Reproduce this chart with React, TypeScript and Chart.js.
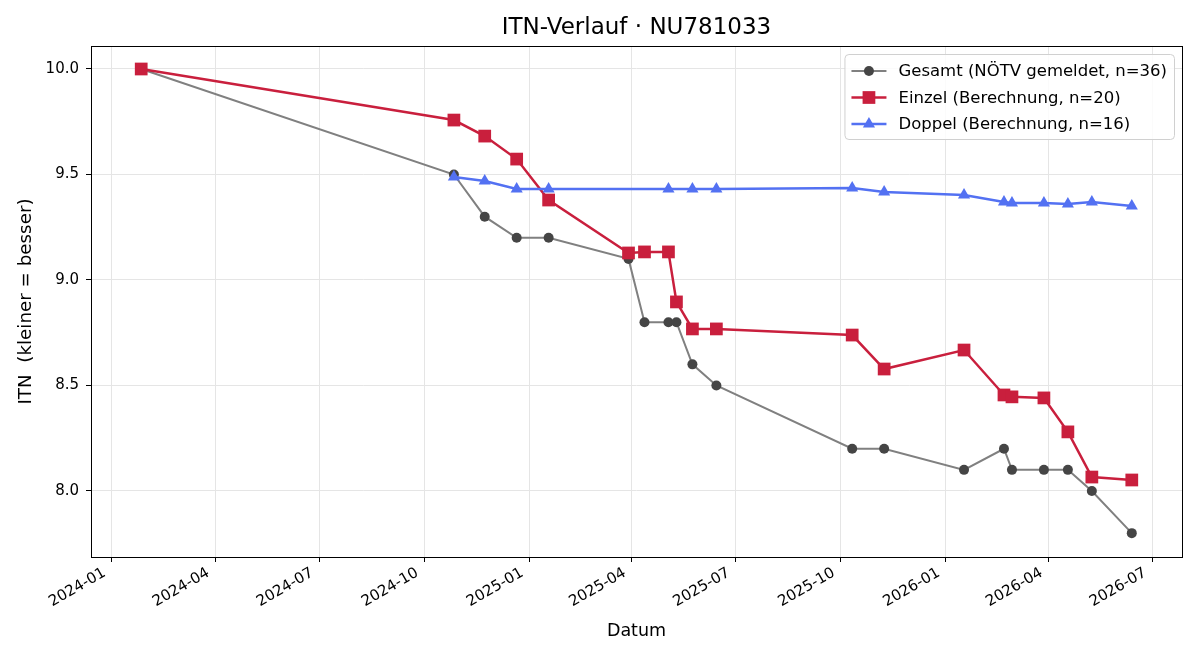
import React, { useEffect, useRef } from 'react';
import { Chart, registerables } from 'chart.js';

Chart.register(...registerables);

// ---- data ----
const dates = [
  '2024-01-27', '2024-10-27', '2024-11-23', '2024-12-21', '2025-01-18',
  '2025-03-29', '2025-04-12', '2025-05-03', '2025-05-10', '2025-05-24',
  '2025-06-14', '2025-10-11', '2025-11-08', '2026-01-17', '2026-02-21',
  '2026-02-28', '2026-03-28', '2026-04-18', '2026-05-09', '2026-06-13',
];
const gesamt = [
  10.0, 9.5, 9.3, 9.2, 9.2, 9.1, 8.8, 8.8, 8.8, 8.6,
  8.5, 8.2, 8.2, 8.1, 8.2, 8.1, 8.1, 8.1, 8.0, 7.8,
];
const einzel = [
  10.0, 9.758, 9.682, 9.573, 9.379, 9.128, 9.133, 9.133, 8.896, 8.768,
  8.768, 8.739, 8.578, 8.668, 8.455, 8.446, 8.441, 8.28, 8.066, 8.052,
];
const doppelDates = [
  '2024-10-27', '2024-11-23', '2024-12-21', '2025-01-18', '2025-05-03',
  '2025-05-24', '2025-06-14', '2025-10-11', '2025-11-08', '2026-01-17',
  '2026-02-21', '2026-02-28', '2026-03-28', '2026-04-18', '2026-05-09',
  '2026-06-13',
];
const doppel = [
  9.488, 9.469, 9.431, 9.431, 9.431, 9.431, 9.431, 9.436, 9.417, 9.403,
  9.37, 9.365, 9.365, 9.36, 9.37, 9.351,
];
const seriesLabels = [
  'Gesamt (NÖTV gemeldet, n=36)',
  'Einzel (Berechnung, n=20)',
  'Doppel (Berechnung, n=16)',
];
const xTickLabels = [
  '2024-01', '2024-04', '2024-07', '2024-10', '2025-01',
  '2025-04', '2025-07', '2025-10', '2026-01', '2026-04', '2026-07',
];
const yTickValues = [8.0, 8.5, 9.0, 9.5, 10.0];
const xRange = ['2023-12-14', '2026-07-27'];
const yRange = [7.687, 10.109];

const titleText = 'ITN-Verlauf · NU781033';
const xTitle = 'Datum';
const yTitle = 'ITN  (kleiner = besser)';

// ---- helpers ----
const DAY0 = Date.UTC(2024, 0, 1);
const toDay = (s: string) => {
  const [y, m, d] = s.split('-').map(Number);
  return (Date.UTC(y, m - 1, d || 1) - DAY0) / 86400000;
};

const FONT = '"DejaVu Sans", Verdana, sans-serif';
const GRAY_LINE = '#808080';
const GRAY_PT = '#454545';
const RED = '#C91F3D';
const BLUE = '#5371F2';

function drawMarker(ctx: CanvasRenderingContext2D, style: string, x: number, y: number, r: number, color: string) {
  ctx.fillStyle = color;
  ctx.beginPath();
  if (style === 'circle') {
    ctx.arc(x, y, r, 0, Math.PI * 2);
  } else if (style === 'rect') {
    const s = Math.SQRT1_2 * r;
    ctx.rect(x - s, y - s, 2 * s, 2 * s);
  } else if (style === 'triangle') {
    let rad = 0;
    ctx.moveTo(x + Math.sin(rad) * r, y - Math.cos(rad) * r);
    rad += (2 * Math.PI) / 3;
    ctx.lineTo(x + Math.sin(rad) * r, y - Math.cos(rad) * r);
    rad += (2 * Math.PI) / 3;
    ctx.lineTo(x + Math.sin(rad) * r, y - Math.cos(rad) * r);
    ctx.closePath();
  }
  ctx.fill();
}

const framePlugin = {
  id: 'frameAndLegend',
  afterDatasetsDraw(chart: any) {
    const { ctx, chartArea } = chart;
    const { left, right, top, bottom } = chartArea;
    ctx.save();
    // spines
    ctx.strokeStyle = '#000';
    ctx.lineWidth = 1;
    ctx.strokeRect(Math.round(left) + 0.5, Math.round(top) + 0.5, Math.round(right - left), Math.round(bottom - top));

    // title, centred over the axes
    ctx.font = `23px ${FONT}`;
    ctx.fillStyle = '#000';
    ctx.textAlign = 'center';
    ctx.textBaseline = 'middle';
    ctx.fillText(titleText, (left + right) / 2, 28);

    // legend
    ctx.font = `16.5px ${FONT}`;
    const ds = chart.data.datasets;
    const textW = Math.max(...ds.map((d: any) => ctx.measureText(d.label).width));
    const padX = 7, lineLen = 35, gap = 12, rowH = 26.5;
    const w = padX + lineLen + gap + textW + padX;
    const h = 85;
    const x0 = right - 8 - w;
    const y0 = top + 8;
    ctx.beginPath();
    ctx.roundRect(x0 + 0.5, y0 + 0.5, w, h, 4);
    ctx.fillStyle = 'rgba(255,255,255,0.85)';
    ctx.fill();
    ctx.strokeStyle = '#d0d0d0';
    ctx.lineWidth = 1;
    ctx.stroke();
    ds.forEach((d: any, i: number) => {
      const cy = y0 + 17 + i * rowH;
      ctx.beginPath();
      ctx.strokeStyle = d.borderColor;
      ctx.lineWidth = d.borderWidth;
      ctx.moveTo(x0 + padX, cy);
      ctx.lineTo(x0 + padX + lineLen, cy);
      ctx.stroke();
      drawMarker(ctx, d.pointStyle, x0 + padX + lineLen / 2, cy, d.pointRadius, d.pointBackgroundColor);
      ctx.fillStyle = '#000';
      ctx.textAlign = 'left';
      ctx.textBaseline = 'middle';
      ctx.fillText(d.label, x0 + padX + lineLen + gap, cy + 1);
    });
    ctx.restore();
  },
};

export default function App() {
  const canvasRef = useRef<HTMLCanvasElement | null>(null);

  useEffect(() => {
    document.body.style.margin = '0';
    const canvas = canvasRef.current;
    if (!canvas) return;
    Chart.defaults.font.family = FONT;
    Chart.defaults.color = '#000';

    const xTicks = xTickLabels.map((l) => toDay(l + '-01'));

    const chart = new Chart(canvas, {
      type: 'line',
      data: {
        datasets: [
          {
            label: seriesLabels[0],
            data: dates.map((d, i) => ({ x: toDay(d), y: gesamt[i] })),
            borderColor: GRAY_LINE,
            borderWidth: 2,
            pointStyle: 'circle',
            pointRadius: 5,
            pointBackgroundColor: GRAY_PT,
            pointBorderColor: GRAY_PT,
            pointBorderWidth: 0,
            tension: 0,
            order: 3,
          },
          {
            label: seriesLabels[1],
            data: dates.map((d, i) => ({ x: toDay(d), y: einzel[i] })),
            borderColor: RED,
            borderWidth: 2.5,
            pointStyle: 'rect',
            pointRadius: 9,
            pointBackgroundColor: RED,
            pointBorderColor: RED,
            pointBorderWidth: 0,
            tension: 0,
            order: 2,
          },
          {
            label: seriesLabels[2],
            data: doppelDates.map((d, i) => ({ x: toDay(d), y: doppel[i] })),
            borderColor: BLUE,
            borderWidth: 2.5,
            pointStyle: 'triangle',
            pointRadius: 7,
            pointBackgroundColor: BLUE,
            pointBorderColor: BLUE,
            pointBorderWidth: 0,
            tension: 0,
            order: 1,
          },
        ] as any,
      },
      options: {
        animation: false,
        responsive: true,
        maintainAspectRatio: false,
        layout: { padding: { left: 0, right: 18, top: 46, bottom: 0 } },
        plugins: {
          legend: { display: false },
          tooltip: { enabled: false },
          title: { display: false },
        },
        scales: {
          x: {
            type: 'linear',
            min: toDay(xRange[0]),
            max: toDay(xRange[1]),
            afterBuildTicks: (s: any) => {
              s.ticks = xTicks.map((v) => ({ value: v }));
            },
            afterFit: (s: any) => {
              s.height = 103;
            },
            ticks: {
              autoSkip: false,
              minRotation: 30,
              maxRotation: 30,
              padding: 2,
              labelOffset: -7,
              color: '#000',
              font: { size: 15, family: FONT },
              callback: (_v: any, i: number) => xTickLabels[i],
            },
            grid: { color: '#e5e5e5', tickColor: '#000', tickLength: 5, lineWidth: 1 },
            border: { display: false },
            title: {
              display: true,
              text: xTitle,
              color: '#000',
              font: { size: 17.5, family: FONT },
              padding: { top: 0, bottom: 18 },
            },
          },
          y: {
            type: 'linear',
            min: yRange[0],
            max: yRange[1],
            afterBuildTicks: (s: any) => {
              s.ticks = yTickValues.map((v) => ({ value: v }));
            },
            afterFit: (s: any) => {
              s.width = 91;
            },
            ticks: {
              padding: 7,
              color: '#000',
              font: { size: 15, family: FONT },
              callback: (v: any) => Number(v).toFixed(1),
            },
            grid: { color: '#e5e5e5', tickColor: '#000', tickLength: 5, lineWidth: 1 },
            border: { display: false },
            title: {
              display: true,
              text: yTitle,
              color: '#000',
              font: { size: 18.3, family: FONT },
              padding: { top: 15, bottom: 0 },
            },
          },
        },
      } as any,
      plugins: [framePlugin],
    });
    return () => chart.destroy();
  }, []);

  return (
    <div style={{ position: 'absolute', left: 0, top: 0, width: 1200, height: 660 }}>
      <canvas ref={canvasRef} />
    </div>
  );
}
